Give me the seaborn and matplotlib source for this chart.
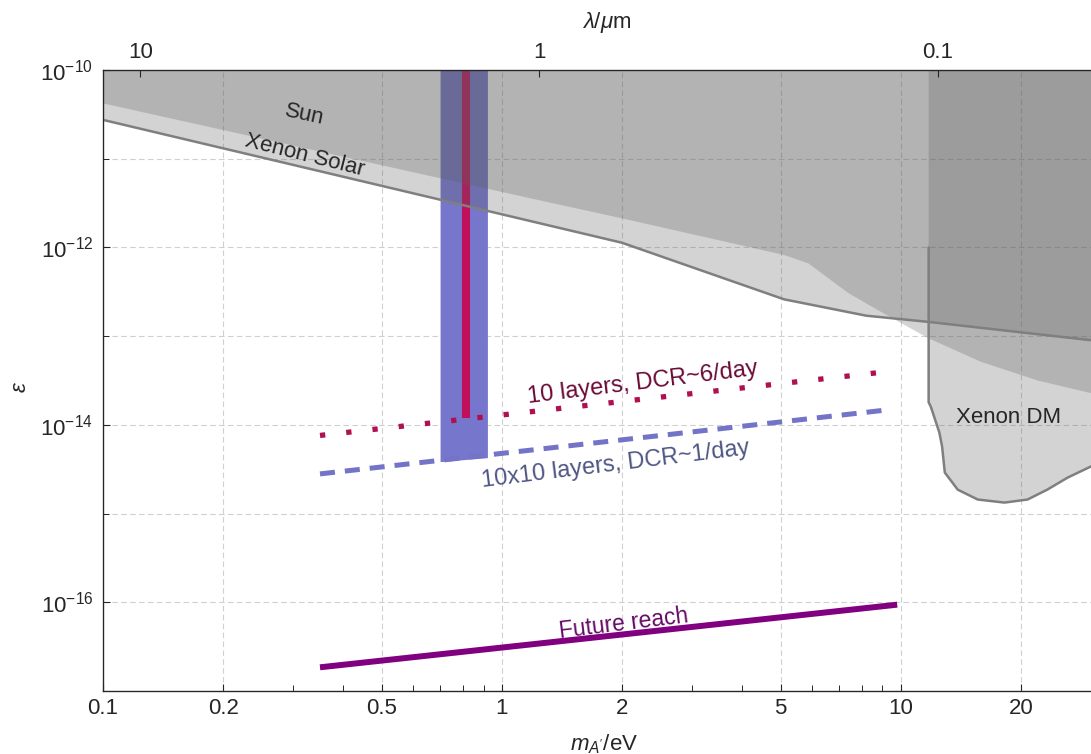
import numpy as np
import pandas as pd
import matplotlib
matplotlib.use("Agg")
import matplotlib.pyplot as plt
import seaborn as sns
from matplotlib.ticker import FixedLocator, FixedFormatter, NullFormatter

# --- data (m in eV, epsilon) ---
sun_m = [0.1, 1.24, 2.0, 5.1, 5.85, 7.37, 8.9, 11.7, 15.85, 22.0, 30.0]
sun_eps = [4.25e-11, 3.44e-12, 2.15e-12, 8.3e-13, 6.7e-13, 3.1e-13, 1.9e-13,
           9.6e-14, 5.2e-14, 3.2e-14, 2.3e-14]

xesolar_m = [0.1, 2.0, 5.1, 8.2, 11.7, 30.0]
xesolar_eps = [2.74e-11, 1.13e-12, 2.6e-13, 1.7e-13, 1.45e-13, 9.0e-14]

xedm_m = [11.75, 11.75, 11.9, 12.5, 12.7, 12.9, 13.9, 15.6, 18.2, 20.8, 23.3, 26.2, 30.0]
xedm_eps = [1e-12, 1.8e-14, 1.6e-14, 8.2e-15, 5.7e-15, 2.9e-15, 1.86e-15, 1.44e-15,
            1.33e-15, 1.44e-15, 1.86e-15, 2.54e-15, 3.4e-15]

band_m = [0.70, 0.92]
band_eps = [3.85e-15, 4.27e-15]

red_m = [0.813, 0.813]
red_eps = [1.2e-14, 1e-10]

layers10_m = [0.35, 9.2]
layers10_eps = [7.6e-15, 3.97e-14]

layers100_m = [0.35, 9.2]
layers100_eps = [2.8e-15, 1.47e-14]

future_m = [0.35, 9.8]
future_eps = [1.85e-17, 9.4e-17]

x_ticks = [0.1, 0.2, 0.5, 1, 2, 5, 10, 20]
x_ticklabels = ["0.1", "0.2", "0.5", "1", "2", "5", "10", "20"]
y_ticks = [1e-16, 1e-14, 1e-12, 1e-10]
y_ticklabels = [r"$10^{-16}$", r"$10^{-14}$", r"$10^{-12}$", r"$10^{-10}$"]
lam_ticks = [10, 1, 0.1]
lam_ticklabels = ["10", "1", "0.1"]

# --- style ---
sns.set_style("ticks")
plt.rcParams["font.family"] = ["Liberation Sans", "DejaVu Sans"]
plt.rcParams["mathtext.fontset"] = "custom"
plt.rcParams["mathtext.rm"] = "Liberation Sans"
plt.rcParams["mathtext.it"] = "Liberation Sans:italic"
plt.rcParams["font.size"] = 16

fig = plt.figure(figsize=(10.91, 7.54), dpi=100)
ax = fig.add_axes([103 / 1091, 63 / 754, 988 / 1091, 621 / 754])
ax.set_xscale("log")
ax.set_yscale("log")
ax.set_xlim(0.1, 30)
ax.set_ylim(1e-17, 1e-10)

gray = (94 / 255, 94 / 255, 94 / 255)
ga = 0.27

# detector band and red line (under the gray constraints)
ax.fill_between(band_m, band_eps, 1e-10, color="#7676cc", lw=0, zorder=1)
sns.lineplot(x=red_m, y=red_eps, ax=ax, color="#c0105a", linewidth=5.8,
             solid_capstyle="butt", estimator=None, sort=False, zorder=1.5)

# constraints
ax.fill_between(sun_m, sun_eps, 1e-10, color=gray, alpha=ga, lw=0, zorder=2)
ax.fill_between(xesolar_m, xesolar_eps, 1e-10, color=gray, alpha=ga, lw=0, zorder=2)
dm_x = [xedm_m[0]] + xedm_m + [xedm_m[-1]]
dm_y = [1e-10] + xedm_eps + [1e-10]
ax.fill(dm_x, dm_y, color=gray, alpha=ga, lw=0, zorder=2)

sns.lineplot(x=xesolar_m, y=xesolar_eps, ax=ax, color="#7f7f7f", linewidth=1.8,
             estimator=None, sort=False, zorder=3)
sns.lineplot(x=xedm_m, y=xedm_eps, ax=ax, color="#7f7f7f", linewidth=1.8,
             estimator=None, sort=False, zorder=3)

# projected reaches
sns.lineplot(x=layers10_m, y=layers10_eps, ax=ax, color="#b01050", linewidth=3.8,
             linestyle=(0, (1, 4)), estimator=None, zorder=3)
sns.lineplot(x=layers100_m, y=layers100_eps, ax=ax, color="#7373c8", linewidth=3.6,
             linestyle=(0, (3, 2)), estimator=None, zorder=3)
sns.lineplot(x=future_m, y=future_eps, ax=ax, color="#800080", linewidth=4.3,
             solid_capstyle="butt", estimator=None, zorder=3)

# labels
ax.text(0.32, 3.1e-11, "Sun", rotation=-12, ha="center", va="center", fontsize=16, zorder=4)
ax.text(0.32, 1.1e-11, "Xenon Solar", rotation=-14, ha="center", va="center", fontsize=16, zorder=4)
ax.text(18.6, 1.2e-14, "Xenon DM", ha="center", va="center", fontsize=16, zorder=4)
ax.text(2.26, 3.0e-14, "10 layers, DCR~6/day", rotation=7, ha="center", va="center",
        fontsize=17, color="#6a0a35", zorder=4)
ax.text(1.93, 3.56e-15, "10x10 layers, DCR~1/day", rotation=7, ha="center", va="center",
        fontsize=17, color="#4f5685", zorder=4)
ax.text(2.02, 5.7e-17, "Future reach", rotation=7, ha="center", va="center",
        fontsize=16.5, color="#650a65", zorder=4)

# ticks and grid
ax.xaxis.set_major_locator(FixedLocator(x_ticks))
ax.xaxis.set_major_formatter(FixedFormatter(x_ticklabels))
ax.xaxis.set_minor_locator(FixedLocator([0.3, 0.4, 0.6, 0.7, 0.8, 0.9, 3, 4, 6, 7, 8, 9, 30]))
ax.xaxis.set_minor_formatter(NullFormatter())
ax.yaxis.set_major_locator(FixedLocator(y_ticks))
ax.yaxis.set_major_formatter(FixedFormatter(y_ticklabels))
ax.yaxis.set_minor_locator(FixedLocator([1e-17, 1e-15, 1e-13, 1e-11]))
ax.yaxis.set_minor_formatter(NullFormatter())
ax.tick_params(which="major", direction="in", length=5, width=0.8, labelsize=16)
ax.tick_params(axis="x", which="major", pad=5)
ax.tick_params(axis="y", which="major", pad=7)
ax.tick_params(which="minor", direction="in", length=4, width=0.7)
ax.set_axisbelow(True)
grid_kw = dict(color="#d0d0d0", linestyle=(0, (5, 3)), linewidth=0.8)
ax.xaxis.grid(True, which="major", **grid_kw)
ax.yaxis.grid(True, which="both", **grid_kw)

for side in ["left", "bottom", "top"]:
    ax.spines[side].set_color("#222222")
    ax.spines[side].set_linewidth(0.9)
ax.spines["right"].set_visible(False)

ax.set_xlabel(r"$m_{A'}$/eV", fontsize=16, va="center")
ax.xaxis.set_label_coords(0.507, -0.085)
ax.set_ylabel(r"$\epsilon$", fontsize=16)
ax.yaxis.set_label_coords(-0.073, 0.49)

# top axis: wavelength
ax2 = ax.twiny()
ax2.set_xscale("log")
ax2.set_xlim(ax.get_xlim())
ax2.xaxis.set_major_locator(FixedLocator([1.24 / l for l in lam_ticks]))
ax2.xaxis.set_major_formatter(FixedFormatter(lam_ticklabels))
ax2.xaxis.set_minor_locator(FixedLocator([]))
ax2.tick_params(axis="x", which="major", direction="in", length=5, width=0.8,
                labelsize=16, pad=5)
ax2.spines["right"].set_visible(False)
ax2.set_xlabel(r"$\lambda/\mu$m", fontsize=16, va="center")
ax2.xaxis.set_label_coords(0.51, 1.076)

fig.savefig("out.png", dpi=100)
